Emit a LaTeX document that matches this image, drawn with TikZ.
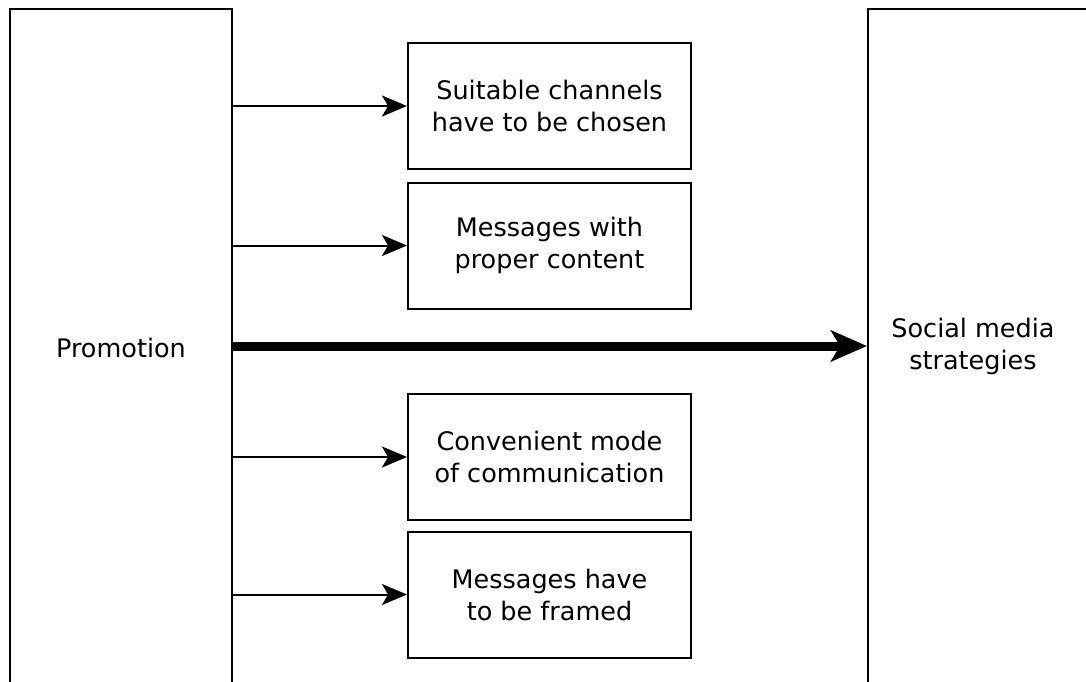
\documentclass[tikz,border=0pt]{standalone}
\usepackage{fontspec}
\setmainfont{DejaVu Sans}
\usetikzlibrary{arrows.meta}

\begin{document}
\begin{tikzpicture}[x=1pt, y=-1pt,
    bigbox/.style={draw, line width=2pt, rectangle, minimum height=760pt},
    stepbox/.style={draw, line width=2pt, rectangle, minimum width=283pt, minimum height=126pt,
        align=center, font=\fontsize{25.5}{32}\selectfont},
    label/.style={align=center, font=\fontsize{25.5}{32}\selectfont},
    thin/.style={-{Stealth[length=25pt, width=21pt, inset=6pt]}, line width=2pt},
    fat/.style={-{Stealth[length=36pt, width=31pt, inset=9pt]}, line width=9pt}]
    \clip (0,0) rectangle (1086,681);
    \useasboundingbox (0,0) rectangle (1086,681);

    \node[bigbox, minimum width=222pt] (promo) at (121,389) {};
    \node[label] (promotxt) at (121,348) {Promotion};
    \node[bigbox, minimum width=272pt] (social) at (1004,389) {};
    \node[label] (socialtxt) at (973,346) {Social media\\strategies};

    \node[stepbox] (chan) at (549.5,106) {Suitable channels\\have to be chosen};
    \node[stepbox] (msg) at (549.5,245.5) {Messages with\\proper content};
    \node[stepbox] (mode) at (549.5,457) {Convenient mode\\of communication};
    \node[stepbox] (frame) at (549.5,594.5) {Messages have\\to be framed};

    \draw[thin] (promo.east |- chan.west) -- (chan.west);
    \draw[thin] (promo.east |- msg.west) -- (msg.west);
    \draw[thin] (promo.east |- mode.west) -- (mode.west);
    \draw[thin] (promo.east |- frame.west) -- (frame.west);
    \draw[fat] (promo.east |- socialtxt) -- (social.west |- socialtxt);
\end{tikzpicture}
\end{document}
